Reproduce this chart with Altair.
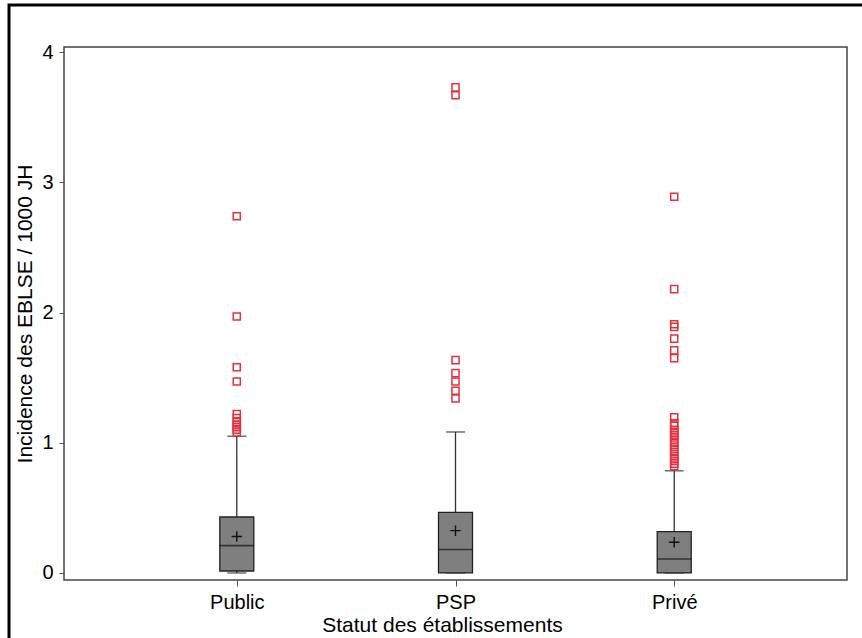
import altair as alt
import pandas as pd

categories = ["Public", "PSP", "Privé"]
q1 = [0.015, 0.0, 0.0]
median = [0.21, 0.18, 0.107]
q3 = [0.43, 0.466, 0.317]
mean = [0.28, 0.325, 0.236]
whisker_low = [0.0, 0.0, 0.0]
whisker_high = [1.05, 1.083, 0.785]

outliers_public = [1.08, 1.10, 1.12, 1.14, 1.16, 1.19, 1.22, 1.47, 1.58, 1.97, 2.74]
outliers_psp = [1.34, 1.40, 1.47, 1.535, 1.635, 3.67, 3.73]
outliers_prive = [0.82, 0.84, 0.86, 0.88, 0.90, 0.93, 0.95, 0.97, 1.00, 1.02, 1.04,
                  1.06, 1.08, 1.10, 1.13, 1.15, 1.195, 1.65, 1.71, 1.80, 1.89, 1.91,
                  2.18, 2.89]

summary = pd.DataFrame({
    "statut": categories, "q1": q1, "median": median, "q3": q3,
    "mean": mean, "low": whisker_low, "high": whisker_high,
})
out_rows = ([("Public", v) for v in outliers_public]
            + [("PSP", v) for v in outliers_psp]
            + [("Privé", v) for v in outliers_prive])
outliers = pd.DataFrame(out_rows, columns=["statut", "value"])

xenc = alt.X("statut:N", sort=categories,
             scale=alt.Scale(type="point", padding=0.79),
             axis=alt.Axis(title="Statut des établissements", labelAngle=0,
                           tickSize=6, labelPadding=6, titlePadding=2,
                           titleX=378, titleAlign="center",
                           domain=False, tickColor="#555"))
yscale = alt.Scale(domain=[-0.054, 4.04], nice=False, zero=False)
yaxis = alt.Axis(title="Incidence des EBLSE / 1000 JH", values=[0, 1, 2, 3, 4],
                 format="d", grid=False, domain=False, tickSize=5,
                 tickColor="#555", labelPadding=6, titlePadding=6)

base = alt.Chart(summary)

whisk = base.mark_rule(color="#333", strokeWidth=1.3).encode(
    x=xenc, y=alt.Y("low:Q", scale=yscale, axis=yaxis), y2="high:Q")
caps_hi = base.mark_tick(color="#333", size=19, thickness=1.5, orient="horizontal").encode(
    x=xenc, y=alt.Y("high:Q", scale=yscale))
caps_lo = base.mark_tick(color="#333", size=19, thickness=1.5, orient="horizontal").encode(
    x=xenc, y=alt.Y("low:Q", scale=yscale))
box = base.mark_bar(size=34, color="#7f7f7f", stroke="#222", strokeWidth=1.3).encode(
    x=xenc, y=alt.Y("q1:Q", scale=yscale), y2="q3:Q")
med = base.mark_tick(color="#111", size=34, thickness=1.6, orient="horizontal").encode(
    x=xenc, y=alt.Y("median:Q", scale=yscale))
mn = base.mark_point(shape="M-1,0L1,0M0,-1L0,1", size=110, filled=False,
                     color="#111", strokeWidth=1.4, opacity=1).encode(
    x=xenc, y=alt.Y("mean:Q", scale=yscale))
outs = alt.Chart(outliers).mark_point(shape="square", size=50, filled=False,
                                      color="#e8303c", strokeWidth=1.5, opacity=1).encode(
    x=xenc, y=alt.Y("value:Q", scale=yscale))

border = alt.Chart(pd.DataFrame({"a": [0]})).mark_rect(
    fill=None, stroke="black", strokeWidth=3).encode(
    x=alt.value(-55), y=alt.value(-42), x2=alt.value(900), y2=alt.value(700))

chart = alt.layer(whisk, caps_lo, caps_hi, box, med, mn, outs, border).properties(
    width=783, height=533,
    autosize=alt.AutoSizeParams(type="none"),
    padding={"left": 64, "top": 47, "right": 15, "bottom": 58},
    background="white",
).configure_view(
    stroke="#444", strokeWidth=1.5
).configure_axis(
    labelFont="Liberation Sans", titleFont="Liberation Sans",
    labelFontSize=20, titleFontSize=21, titleFontWeight="normal",
    labelColor="black", titleColor="black",
)

chart.save("out.html", embed_options={"renderer": "svg", "actions": False})
